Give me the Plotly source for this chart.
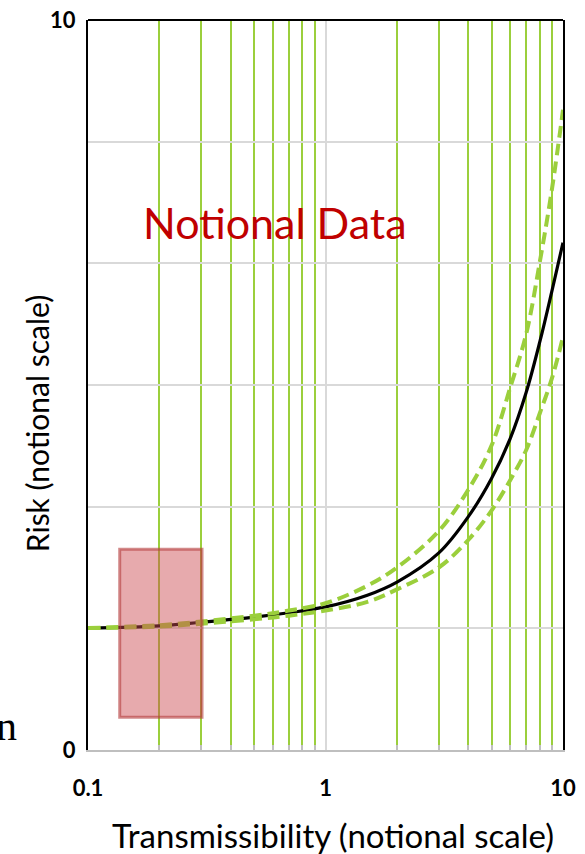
import plotly.graph_objects as go

# ---- data ----
x_vals = [0.1, 0.2, 0.3, 0.5, 0.7, 1, 1.5, 2, 3, 4, 5, 6, 7, 8, 9, 10]
risk_mid = [1.67, 1.70, 1.75, 1.82, 1.88, 1.96, 2.12, 2.30, 2.70, 3.20, 3.72, 4.27, 4.90, 5.60, 6.30, 6.95]
risk_upper = [1.67, 1.71, 1.76, 1.84, 1.91, 2.01, 2.25, 2.50, 3.00, 3.57, 4.17, 4.97, 5.70, 6.70, 7.70, 8.77]
risk_lower = [1.67, 1.69, 1.73, 1.79, 1.84, 1.91, 2.03, 2.20, 2.50, 2.88, 3.28, 3.70, 4.11, 4.62, 5.10, 5.66]

x_ticks = [0.1, 1, 10]
x_ticktext = ["0.1", "1", "10"]
x_minor = [0.2, 0.3, 0.4, 0.5, 0.6, 0.7, 0.8, 0.9, 2, 3, 4, 5, 6, 7, 8, 9]
y_ticks = [0, 10]
y_ticktext = ["0", "10"]
y_grid = [10 / 6, 20 / 6, 30 / 6, 40 / 6, 50 / 6]

box_x = [0.136, 0.302]
box_y = [0.45, 2.75]

GREEN = "#9BCF3C"

fig = go.Figure()
fig.add_trace(go.Scatter(x=x_vals, y=risk_mid, mode="lines", line_shape="spline",
                         line=dict(color="black", width=3.2), showlegend=False))
fig.add_trace(go.Scatter(x=x_vals, y=risk_upper, mode="lines", line_shape="spline",
                         line=dict(color=GREEN, width=4, dash="12px,6px"), showlegend=False))
fig.add_trace(go.Scatter(x=x_vals, y=risk_lower, mode="lines", line_shape="spline",
                         line=dict(color=GREEN, width=4, dash="12px,6px"), showlegend=False))

fig.add_shape(type="rect", xref="x", yref="y", x0=box_x[0], x1=box_x[1], y0=box_y[0], y1=box_y[1],
              fillcolor="rgba(205,75,80,0.47)", line=dict(color="rgba(180,60,60,0.6)", width=3),
              layer="above")
# top border
fig.add_shape(type="line", xref="paper", yref="paper", x0=0, x1=1, y0=1, y1=1,
              line=dict(color="black", width=2))

fig.add_annotation(xref="paper", yref="paper", x=0.394, y=0.722, xanchor="center", yanchor="middle",
                   text="Notional Data", showarrow=False,
                   font=dict(family="Lato", size=43, color="#C00000"))
fig.add_annotation(xref="paper", yref="paper", x=0.516, y=-0.1164, xanchor="center", yanchor="middle",
                   text="Transmissibility (notional scale)", showarrow=False,
                   font=dict(family="Lato", size=33, color="black"))
fig.add_annotation(xref="paper", yref="paper", x=-0.107, y=0.4466, xanchor="center", yanchor="middle",
                   textangle=-90, text="Risk (notional scale)", showarrow=False,
                   font=dict(family="Lato", size=30, color="black"))
fig.add_annotation(xref="paper", yref="paper", x=-0.146, xanchor="right", y=0.033, yanchor="middle",
                   text="n", showarrow=False,
                   font=dict(family="Liberation Serif", size=42, color="black"))

fig.update_layout(
    width=585, height=854,
    margin=dict(l=88, r=22, t=20, b=104, autoexpand=False),
    plot_bgcolor="white", paper_bgcolor="white",
    xaxis=dict(type="log", range=[-1, 1], tickvals=x_ticks, ticktext=x_ticktext,
               automargin=False, ticklabeloverflow="allow",
               showgrid=True, gridcolor="#D9D9D9", gridwidth=2,
               showline=True, linecolor="#BFBFBF", linewidth=2,
               ticks="", ticklabelstandoff=18,
               tickfont=dict(family="Lato", size=22, color="black", weight="bold"),
               minor=dict(tickvals=x_minor, showgrid=True, gridcolor=GREEN, gridwidth=2,
                          ticks="inside", ticklen=5, tickcolor="#BFBFBF", tickwidth=2),
               zeroline=False),
    yaxis=dict(range=[0, 10], tickvals=y_ticks, ticktext=y_ticktext,
               automargin=False, ticklabeloverflow="allow",
               showgrid=False, showline=True, linecolor="black", linewidth=2, mirror=True,
               ticks="", ticklabelstandoff=6,
               tickfont=dict(family="Lato", size=22, color="black", weight="bold"),
               minor=dict(tickvals=y_grid, showgrid=True, gridcolor="#D9D9D9", gridwidth=2),
               zeroline=False),
)

fig.write_html("out.html", config={"displayModeBar": False},
               post_script="document.body.style.margin='0';")
